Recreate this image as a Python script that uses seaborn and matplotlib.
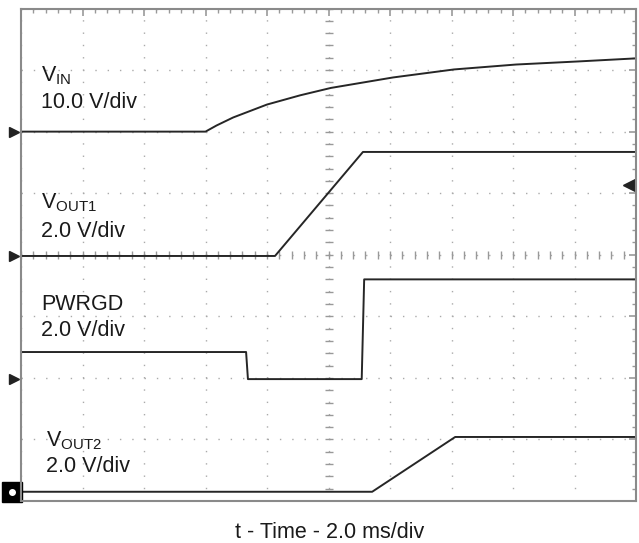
import numpy as np
import matplotlib
matplotlib.use("Agg")
import matplotlib.pyplot as plt
import seaborn as sns

# Oscilloscope capture: 10 x 8 divisions, values in divisions
t_vin = [0.0, 3.0, 3.18, 3.45, 4.0, 4.54, 5.04, 6.05, 7.04, 8.05, 9.06, 10.0]
v_vin = [6.0, 6.0, 6.10, 6.23, 6.44, 6.59, 6.71, 6.88, 7.01, 7.09, 7.14, 7.19]

t_vout1 = [0.0, 4.13, 5.56, 10.0]
v_vout1 = [3.98, 3.98, 5.67, 5.67]

t_pwrgd = [0.0, 3.66, 3.69, 5.54, 5.58, 10.0]
v_pwrgd = [2.42, 2.42, 1.98, 1.98, 3.6, 3.6]

t_vout2 = [0.0, 5.71, 7.06, 10.0]
v_vout2 = [0.15, 0.15, 1.04, 1.04]

channel_names = [r"$\mathregular{V_{IN}}$", r"$\mathregular{V_{OUT1}}$", "PWRGD",
                 r"$\mathregular{V_{OUT2}}$"]
channel_scales = ["10.0 V/div", "2.0 V/div", "2.0 V/div", "2.0 V/div"]
name_pos = [(0.33, 6.81), (0.33, 4.75), (0.33, 3.11), (0.41, 0.88)]
scale_pos = [(0.33, 6.39), (0.33, 4.29), (0.33, 2.68), (0.41, 0.47)]
ground_levels = [6.0, 3.98, 1.98]
trigger_level = 5.14
x_label = "t - Time - 2.0 ms/div"

sns.set_style("white")
plt.rcParams["font.family"] = ["Liberation Sans", "DejaVu Sans"]
plt.rcParams["mathtext.fontset"] = "custom"
plt.rcParams["mathtext.rm"] = "Liberation Sans"

fig = plt.figure(figsize=(6.39, 5.43), dpi=100)
ax = fig.add_axes([21 / 639, 1 - 501 / 543, 615 / 639, 492.5 / 543])

trace = dict(color="#262626", linewidth=1.4)
sns.lineplot(x=t_vin, y=v_vin, ax=ax, estimator=None, sort=False, **trace)
sns.lineplot(x=t_vout1, y=v_vout1, ax=ax, estimator=None, sort=False, **trace)
sns.lineplot(x=t_pwrgd, y=v_pwrgd, ax=ax, estimator=None, sort=False, **trace)
sns.lineplot(x=t_vout2, y=v_vout2, ax=ax, estimator=None, sort=False, **trace)

ax.set_xlim(0, 10)
ax.set_ylim(0, 8)
ax.set_xticks(np.arange(0, 11, 1))
ax.set_yticks(np.arange(0, 9, 1))
ax.set_xticks(np.arange(0, 10.01, 0.2), minor=True)
ax.set_yticks(np.arange(0, 8.01, 0.2), minor=True)
ax.tick_params(which="both", direction="in", top=True, right=True,
               labelbottom=False, labelleft=False, color="#999999")
ax.tick_params(which="major", length=5, width=1.2)
ax.tick_params(which="minor", length=3, width=1)
ax.grid(True, which="major", color="#aaaaaa", linestyle=(0, (1, 7.86)), linewidth=1.0)
for s in ax.spines.values():
    s.set_color("#8a8a8a")
    s.set_linewidth(1.5)

# centre graticule ticks
minor_x = np.arange(0, 10.01, 0.2)
minor_y = np.arange(0, 8.01, 0.2)
ax.plot(minor_x, np.full_like(minor_x, 4.0), ls="none", marker="|", ms=6,
        mew=1, color="#999999", zorder=1)
ax.plot(np.full_like(minor_y, 5.0), minor_y, ls="none", marker="_", ms=6,
        mew=1, color="#999999", zorder=1)

# channel ground markers and trigger marker
for g in ground_levels:
    ax.plot([-0.12], [g], marker=">", ms=7, color="#222222", clip_on=False)
ax.plot([-0.14], [0.15], marker="s", ms=14, color="black", clip_on=False)
ax.plot([-0.14], [0.15], marker="o", ms=4, color="white", clip_on=False)
ax.plot([9.88], [trigger_level], marker="<", ms=8, color="#222222", clip_on=False)

for name, scale, (nx, ny), (sx, sy) in zip(channel_names, channel_scales, name_pos, scale_pos):
    ax.text(nx, ny, name, fontsize=15.5, va="baseline", ha="left", color="#1a1a1a")
    ax.text(sx, sy, scale, fontsize=15.5, va="baseline", ha="left", color="#1a1a1a")

ax.set_xlabel(x_label, fontsize=15.5, color="#1a1a1a")
ax.xaxis.set_label_coords(0.502, -0.063)
ax.xaxis.label.set_va("center")

fig.savefig("out.png", dpi=100)
